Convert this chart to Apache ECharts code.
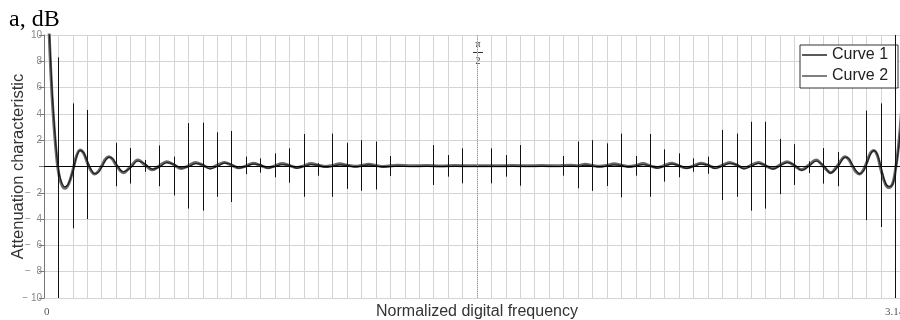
<!DOCTYPE html>
<html>
<head>
<meta charset="utf-8">
<script src="https://cdn.jsdelivr.net/npm/echarts@6/dist/echarts.min.js"></script>
<style>
  html, body { margin: 0; padding: 0; overflow: hidden; background: #fff; }
  #chart { width: 900px; height: 320px; }
</style>
</head>
<body>
<div id="chart"></div>
<script>
// one grid cell on the x axis is pi/60, positions below are read in cells
const STEP = Math.PI / 60;
const HALF_PI = Math.PI / 2;

const freqSteps = [
  0.3, 0.4, 0.55, 0.7, 0.85, 1, 1.2, 1.45, 1.7, 2, 2.25, 2.5, 2.75, 3, 3.25, 3.5, 3.75, 4, 4.25, 4.5, 4.75, 5,
  5.5, 6, 6.5, 7, 7.5, 8, 8.5, 9, 9.5, 10, 10.5, 11, 11.5, 12, 12.5, 13, 13.5, 14, 14.5, 15, 15.5, 16, 16.5, 17,
  17.5, 18, 18.5, 19, 19.5, 20, 20.5, 21, 21.5, 22, 22.5, 23, 23.5, 24.5, 25.5, 26.5, 27.5, 28.5, 29.5, 30.5,
  31.5, 32.5, 33.5, 34.5, 35.5, 36.5, 37, 37.5, 38, 38.5, 39, 39.5, 40, 40.5, 41, 41.5, 42, 42.5, 43, 43.5, 44,
  44.5, 45, 45.5, 46, 46.5, 47, 47.5, 48, 48.5, 49, 49.5, 50, 50.5, 51, 51.5, 52, 52.5, 53, 53.5, 54, 54.5, 55,
  55.5, 55.75, 56, 56.25, 56.5, 56.75, 57, 57.25, 57.5, 57.75, 58, 58.3, 58.55, 58.8, 59, 59.2, 59.4, 59.55,
  59.65, 59.75
];

const curve1 = [
  12, 9, 5.5, 3.0, 1.0, -0.4, -1.3, -1.66, -1.35, -0.3, 0.8, 1.25, 1.0, 0.3, -0.3, -0.57, -0.4, 0.05, 0.55, 0.75, 0.55, 0.1,
  -0.47, 0.0, 0.5, 0.12, -0.25, 0.05, 0.37, 0.12, -0.15, 0.05, 0.3, 0.1, -0.12, 0.1, 0.3, 0.1, -0.1, 0.05, 0.25, 0.08, -0.1, 0.05, 0.22, 0.08,
  -0.08, 0.05, 0.22, 0.1, 0.0, 0.08, 0.2, 0.1, 0.02, 0.08, 0.18, 0.08, 0.0, 0.1, 0.05, 0.08, 0.04, 0.08, 0.05, 0.06,
  0.05, 0.08, 0.05, 0.08, 0.05, 0.1, 0.05, 0.18, 0.08, 0.02, 0.08, 0.2, 0.1, 0.0, 0.08, 0.22, 0.05, -0.08, 0.08, 0.25, 0.05,
  -0.1, 0.05, 0.25, 0.1, -0.1, 0.1, 0.3, 0.1, -0.12, 0.1, 0.3, 0.05, -0.15, 0.12, 0.37, 0.05, -0.25, 0.12, 0.5, 0.0, -0.47, 0.1,
  0.75, 0.55, 0.05, -0.4, -0.57, -0.3, 0.3, 1.0, 1.22, 0.8, -0.3, -1.35, -1.6, -1.3, -0.2, 1.5, 4.0, 7.0,
  10, 12
];

const curve2 = [
  12, 9.5, 6, 3.4, 1.3, -0.2, -1.15, -1.55, -1.3, -0.35, 0.7, 1.2, 1.05, 0.4, -0.2, -0.55, -0.45, -0.05, 0.45, 0.72, 0.6, 0.2,
  -0.4, -0.1, 0.42, 0.2, -0.2, -0.05, 0.3, 0.18, -0.12, -0.02, 0.22, 0.12, -0.18, 0.0, 0.25, 0.15, -0.12, 0.0, 0.18, 0.12, -0.12, 0.0, 0.15, 0.1,
  -0.12, 0.0, 0.15, 0.1, -0.05, 0.02, 0.12, 0.08, -0.03, 0.03, 0.12, 0.05, -0.04, 0.03, 0.0, 0.02, 0.0, 0.02, 0.0, 0.01,
  0.0, 0.02, 0.0, 0.02, 0.0, 0.03, 0.02, 0.1, 0.04, -0.03, 0.05, 0.12, 0.08, -0.05, 0.04, 0.15, 0.05, -0.12, 0.02, 0.18, 0.08,
  -0.14, 0.0, 0.18, 0.12, -0.15, 0.04, 0.22, 0.14, -0.18, 0.02, 0.24, 0.1, -0.2, 0.05, 0.3, 0.12, -0.3, 0.02, 0.42, 0.1, -0.5, -0.02,
  0.7, 0.62, 0.15, -0.3, -0.56, -0.38, 0.2, 0.9, 1.2, 0.9, -0.1, -1.25, -1.52, -1.35, -0.3, 1.3, 3.6, 6.5,
  9.5, 12
];

// vertical jumps of Curve 2 sitting on the grid lines
const spikeSteps = [1, 2, 3, 5, 6, 7, 8, 9, 10, 11, 12, 13, 14, 15, 16, 17, 18, 19, 20, 21, 22, 23, 24, 27, 28, 29,
  31, 32, 33, 36, 37, 38, 39, 40, 41, 42, 43, 44, 45, 46, 47, 48, 49, 50, 51, 52, 53, 54, 55, 57, 58, 59];
const spikeTop = [8.3, 4.8, 4.3, 1.8, 1.4, 0.5, 1.6, 0.75, 3.3, 3.33, 2.6, 2.7, 0.75, 0.62, 1.0, 1.38, 2.47, 0.25, 2.5, 1.8, 2.0, 1.9, 0.8, 1.63, 0.87, 1.38,
  1.38, 0.87, 1.63, 0.8, 1.9, 2.0, 1.76, 2.5, 0.8, 2.47, 1.3, 1.0, 0.62, 0.75, 2.78, 2.5, 3.4, 3.4, 2.1, 1.7, 0.4, 1.4, 1.1, 4.25, 4.8, 10];
const spikeBottom = [-10, -4.7, -4.0, -1.5, -1.3, -0.4, -1.5, -2.2, -3.2, -3.36, -2.3, -2.7, -0.57, -0.47, -0.82, -1.23, -2.3, -0.7, -2.3, -1.7, -1.85, -1.75, -0.72, -1.4, -0.77, -1.28,
  -1.28, -0.77, -1.46, -0.7, -1.66, -1.85, -1.48, -2.35, -0.7, -2.3, -1.15, -0.82, -0.4, -0.55, -2.55, -2.3, -3.36, -3.2, -2.1, -1.4, -0.5, -1.3, -1.5, -4.07, -4.6, -10];

const chart = echarts.init(document.getElementById('chart'));

const data1 = freqSteps.map((k, i) => [k * STEP, curve1[i]]);
const data2 = freqSteps.map((k, i) => [k * STEP, curve2[i]]);
const spikes = spikeSteps.map((k, i) => [
  { coord: [k * STEP, spikeTop[i]] },
  { coord: [k * STEP, spikeBottom[i]] }
]);

const gridColor = '#d4d4d4';

chart.setOption({
  animation: false,
  backgroundColor: '#fff',
  grid: { left: 44, top: 35, width: 866, height: 263, outerBoundsMode: 'none' },
  legend: {
    data: [
      {
        name: 'Curve 1',
        icon: 'path://M0 0H100V8H0Z',
        itemStyle: { color: '#5a5a5a', borderWidth: 0 },
        lineStyle: { width: 0 }
      },
      {
        name: 'Curve 2',
        icon: 'path://M0 0H100V5H0Z',
        itemStyle: { color: '#333', borderWidth: 0 },
        lineStyle: { width: 0 }
      }
    ],
    orient: 'vertical',
    left: 800,
    top: 45,
    padding: [1, 10, 3, 2],
    itemWidth: 25,
    itemHeight: 14,
    itemGap: 3,
    backgroundColor: '#fff',
    borderColor: '#333',
    borderWidth: 1,
    borderRadius: 0,
    textStyle: { fontFamily: 'Liberation Sans', fontSize: 16, color: '#222', lineHeight: 18 }
  },
  xAxis: {
    type: 'value',
    min: 0,
    max: Math.PI,
    interval: STEP,
    axisLine: { show: false },
    axisTick: { show: false },
    axisLabel: {
      formatter: v => (v === 0 ? '0' : ''),
      align: 'left',
      margin: 9,
      fontFamily: 'Liberation Serif',
      fontSize: 11,
      color: '#555'
    },
    splitLine: { lineStyle: { color: gridColor, width: 1 } },
    name: 'Normalized digital frequency',
    nameLocation: 'middle',
    nameGap: 6,
    nameMoveOverlap: false,
    nameTextStyle: { fontFamily: 'Liberation Sans', fontSize: 16, color: '#333' }
  },
  yAxis: {
    type: 'value',
    min: -10,
    max: 10,
    interval: 2,
    axisLine: { show: true, onZero: false, lineStyle: { color: '#777' } },
    axisTick: { show: true, length: 5, lineStyle: { color: '#777' } },
    axisLabel: {
      formatter: v => (v === 0 ? '' : v < 0 ? '\u2212' + (v > -10 ? '  ' : ' ') + (-v) : String(v)),
      margin: 2,
      fontFamily: 'Liberation Sans',
      fontSize: 10,
      color: '#888'
    },
    splitLine: { lineStyle: { color: gridColor, width: 1 } },
    name: 'Attenuation characteristic',
    nameLocation: 'middle',
    nameGap: 17,
    nameMoveOverlap: false,
    nameTextStyle: { fontFamily: 'Liberation Sans', fontSize: 16.5, color: '#333' }
  },
  series: [
    {
      name: 'Curve 1',
      type: 'line',
      data: data1,
      smooth: 0.35,
      symbol: 'none',
      z: 3,
      lineStyle: { color: '#6a6a6a', width: 3 },
      itemStyle: { color: '#5a5a5a' },
      markLine: {
        silent: true,
        symbol: ['none', 'none'],
        label: { show: false },
        data: [
          { yAxis: 0, lineStyle: { color: '#000', width: 1, type: 'solid' } },
          { xAxis: HALF_PI, lineStyle: { color: '#9a9a9a', width: 1, type: 'dotted' } }
        ]
      }
    },
    {
      name: 'Curve 2',
      type: 'line',
      data: data2,
      smooth: 0.35,
      symbol: 'none',
      z: 4,
      lineStyle: { color: '#1e1e1e', width: 1.2 },
      itemStyle: { color: '#333' },
      markLine: {
        silent: true,
        symbol: ['none', 'none'],
        label: { show: false },
        lineStyle: { color: '#111', width: 1, type: 'solid' },
        data: spikes
      }
    }
  ],
  graphic: [
    { type: 'text', x: 9, y: 20, style: { text: 'a, dB', font: '24px "Liberation Serif"', fill: '#000', textVerticalAlign: 'middle' } },
    { type: 'text', x: 885, y: 312.5, style: { text: '3.14', font: '11px "Liberation Serif"', fill: '#555', textVerticalAlign: 'middle' } },
    { type: 'text', x: 478, y: 44.5, style: { text: '\u03c0', font: '10px "Liberation Serif"', fill: '#333', textAlign: 'center', textVerticalAlign: 'middle' } },
    { type: 'line', shape: { x1: 473, y1: 52.5, x2: 483, y2: 52.5 }, style: { stroke: '#333', lineWidth: 1 } },
    { type: 'text', x: 478, y: 61, style: { text: '2', font: '10px "Liberation Serif"', fill: '#333', textAlign: 'center', textVerticalAlign: 'middle' } }
  ]
});
</script>
</body>
</html>
